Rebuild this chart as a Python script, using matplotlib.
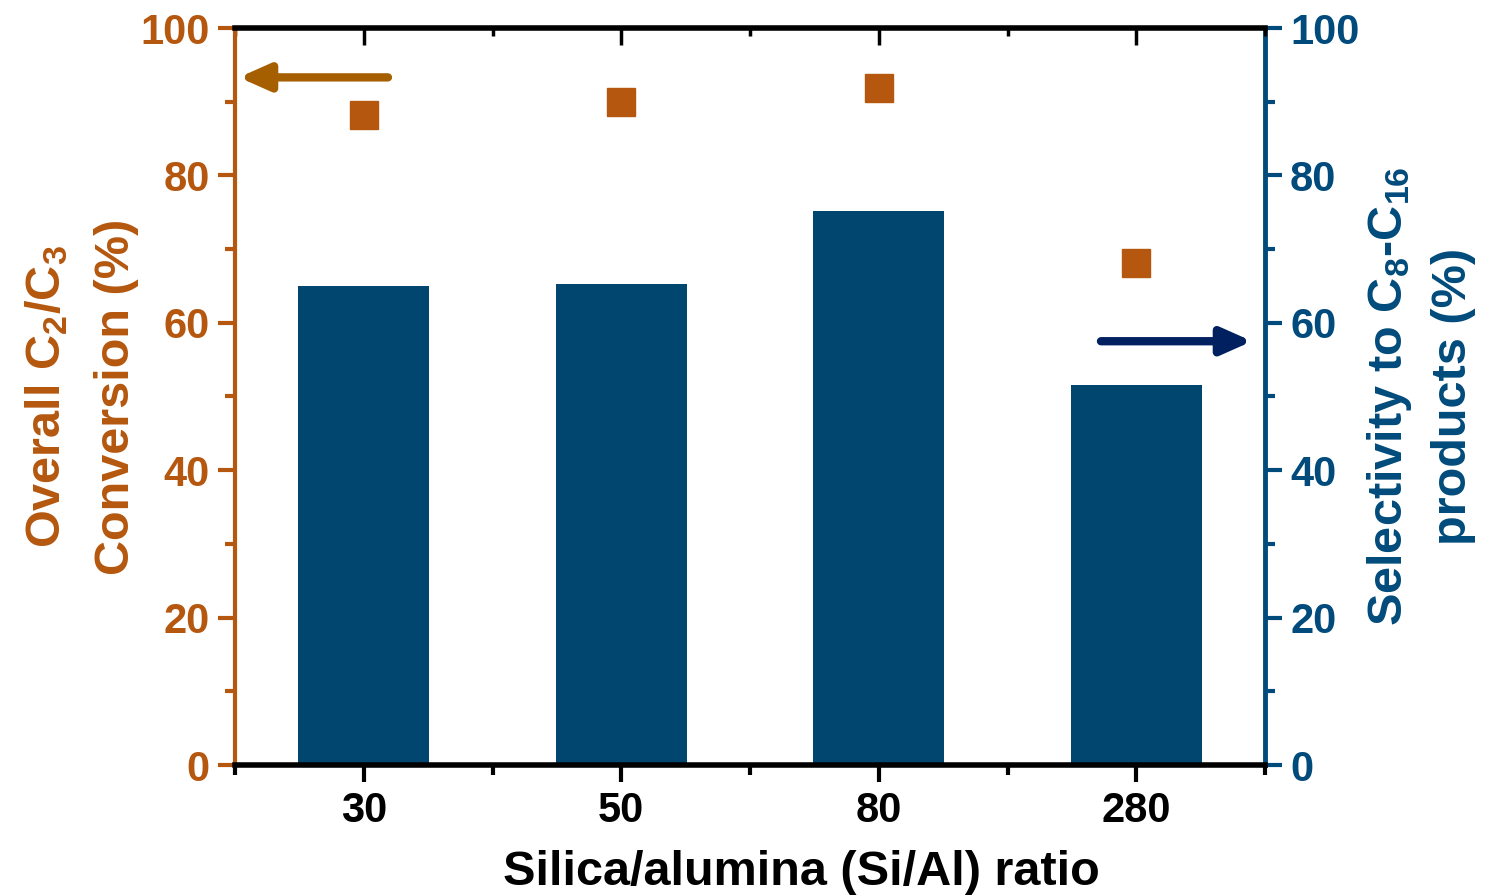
"""Si/Al ratio vs conversion (squares, left) and C8-C16 selectivity (bars, right)."""

import matplotlib
matplotlib.use("Agg")
import matplotlib.pyplot as plt
from matplotlib.ticker import MultipleLocator

ratios = ["30", "50", "80", "280"]
conversion = [88.2, 90.0, 91.9, 68.1]      # % (left axis, squares)
selectivity = [65.0, 65.3, 75.2, 51.6]     # % (right axis, bars)

ORANGE = "#B5570E"
NAVY = "#00466F"
NAVY_AX = "#004B7B"

plt.rcParams["font.family"] = ["Liberation Sans", "DejaVu Sans"]
plt.rcParams["font.weight"] = "bold"
plt.rcParams["mathtext.fontset"] = "custom"
plt.rcParams["mathtext.rm"] = "Liberation Sans:bold"
plt.rcParams["mathtext.bf"] = "Liberation Sans:bold"
plt.rcParams["mathtext.default"] = "bf"

fig = plt.figure(figsize=(14.91, 8.96), dpi=100)
ax = fig.add_subplot(111)
fig.subplots_adjust(left=235 / 1491, right=1265 / 1491, top=1 - 28 / 896, bottom=1 - 765 / 896)
ax2 = ax.twinx()

x = list(range(len(ratios)))

# bars on the right axis, drawn below the squares
ax2.bar(x, selectivity, width=0.51, color=NAVY, zorder=1)
ax.set_zorder(ax2.get_zorder() + 1)
ax.patch.set_visible(False)
ax.plot(x, conversion, linestyle="none", marker="s", markersize=20, color=ORANGE, zorder=3)

ax.set_xlim(-0.5, 3.5)
ax.set_ylim(0, 100)
ax2.set_ylim(0, 100)
ax.set_xticks(x)
ax.set_xticklabels(ratios)
ax.xaxis.set_minor_locator(MultipleLocator(0.5))
ax.yaxis.set_major_locator(MultipleLocator(20))
ax.yaxis.set_minor_locator(MultipleLocator(10))
ax2.yaxis.set_major_locator(MultipleLocator(20))
ax2.yaxis.set_minor_locator(MultipleLocator(10))

# spines
ax.spines["left"].set_color(ORANGE)
ax.spines["left"].set_linewidth(3)
ax.spines["bottom"].set_linewidth(4)
ax.spines["top"].set_linewidth(4)
ax.spines["right"].set_visible(False)
ax2.spines["right"].set_color(NAVY_AX)
ax2.spines["right"].set_linewidth(3.5)
ax2.spines["left"].set_visible(False)
ax2.spines["top"].set_visible(False)
ax2.spines["bottom"].set_visible(False)

ax.tick_params(axis="y", which="major", direction="out", length=12, width=3,
               color=ORANGE, labelcolor=ORANGE, labelsize=30, pad=6)
ax.tick_params(axis="y", which="minor", direction="out", length=7, width=3, color=ORANGE)
ax2.tick_params(axis="y", which="major", direction="out", length=12, width=3,
                color=NAVY_AX, labelcolor=NAVY_AX, labelsize=30, pad=6)
ax2.tick_params(axis="y", which="minor", direction="out", length=7, width=3, color=NAVY_AX)
ax.tick_params(axis="x", which="major", direction="out", length=12, width=3,
               labelsize=30, pad=7)
ax.tick_params(axis="x", which="minor", direction="out", length=7, width=3)

# inward ticks along the top
top = ax.secondary_xaxis("top")
top.set_xticks(x)
top.xaxis.set_minor_locator(MultipleLocator(0.5))
top.tick_params(axis="x", which="major", direction="in", length=12, width=2.5, labeltop=False)
top.tick_params(axis="x", which="minor", direction="in", length=6, width=2.5)
top.spines["top"].set_visible(False)

ax.set_xlabel("Silica/alumina (Si/Al) ratio", fontsize=35, fontweight="bold", labelpad=12)
ax.xaxis.set_label_coords(0.5495, -0.115)
ax.set_ylabel("Overall C$_2$/C$_3$\nConversion (%)", fontsize=35, fontweight="bold",
              color=ORANGE, labelpad=1, linespacing=1.7)
ax2.set_ylabel("Selectivity to C$_8$-C$_{16}$\nproducts (%)", fontsize=35, fontweight="bold",
               color=NAVY_AX, labelpad=4, linespacing=1.5)

# direction arrows
ax.annotate("", xy=(-0.485, 93.3), xytext=(0.094, 93.3),
            arrowprops=dict(arrowstyle="-|>,head_length=1.8,head_width=0.8",
                            color="#A65F00", lw=6, shrinkA=0, shrinkB=0))
ax.annotate("", xy=(3.45, 57.5), xytext=(2.863, 57.5),
            arrowprops=dict(arrowstyle="-|>,head_length=1.8,head_width=0.8",
                            color="#002060", lw=6, shrinkA=0, shrinkB=0))

fig.savefig("out.png", dpi=100)
